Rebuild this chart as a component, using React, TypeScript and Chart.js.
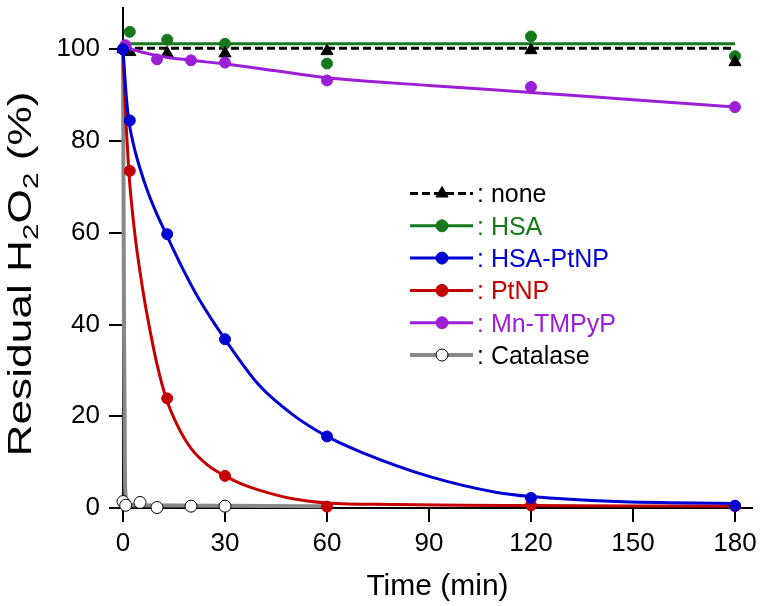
import React, { useEffect, useRef } from "react";
import { Chart, registerables } from "chart.js";

Chart.register(...registerables);

// ---------- data ----------
const X_TICKS = [0, 30, 60, 90, 120, 150, 180];
const Y_TICKS = [0, 20, 40, 60, 80, 100];

const POINT_TIMES = [0, 2, 13, 30, 60, 120, 180];
const NONE_VALUES = [100, 99.4, 99.1, 99.1, 99.6, 99.8, 97.2];
const HSA_VALUES = [100, 103.8, 102.1, 101.2, 96.9, 102.8, 98.5];
const HSA_PTNP_VALUES = [100, 84.5, 59.7, 36.8, 15.6, 2.2, 0.5];
const PTNP_VALUES = [100, 73.5, 23.9, 7.0, 0.3, 0.6, 0.4];

const MN_TIMES = [0.7, 10, 20, 30, 60, 120, 180];
const MN_VALUES = [100.9, 97.8, 97.6, 97.1, 93.2, 91.8, 87.4];

const CAT_TIMES = [0, 0.8, 5, 10, 20, 30];
const CAT_VALUES = [1.4, 0.6, 1.2, 0.1, 0.4, 0.4];

// fitted curves
const NONE_FIT_T = [0, 180];
const NONE_FIT_V = [100.2, 100.2];
const HSA_FIT_T = [0, 180];
const HSA_FIT_V = [101.2, 101.2];
const MN_FIT_T = [0, 10, 20, 30, 45, 60, 90, 120, 150, 180];
const MN_FIT_V = [100.5, 98.6, 97.6, 96.8, 95.3, 93.8, 92.1, 90.6, 89.0, 87.4];
const BLUE_FIT_T = [0, 0.5, 1, 1.7, 3, 5, 7.5, 10, 12.7, 17, 22, 30, 40, 50, 60, 70, 90, 110, 120, 145, 180];
const BLUE_FIT_V = [100, 94.5, 89.5, 84.5, 79.5, 74, 68.5, 64, 59.7, 53, 46, 36.8, 26.8, 20.3, 15.6, 12.2, 6.9, 3.4, 2.5, 1.4, 1.0];
const RED_FIT_T = [0, 0.5, 1, 1.7, 2.5, 3.6, 5, 6.5, 8, 10, 12.7, 16, 20, 25, 30, 35, 40, 50, 60, 80, 100, 120, 150, 180];
const RED_FIT_V = [100, 90, 82.5, 73.5, 66.5, 59, 51.5, 44.5, 38.5, 31.3, 23.9, 18.0, 13.0, 9.3, 7.0, 5.2, 3.9, 2.0, 1.1, 0.75, 0.6, 0.55, 0.45, 0.4];
const CAT_FIT_T = [0, 0.3, 0.6, 1.2, 3, 60];
const CAT_FIT_V = [100, 40, 5, 1.2, 0.6, 0.4];

const LEGEND_LABELS = [": none", ": HSA", ": HSA-PtNP", ": PtNP", ": Mn-TMPyP", ": Catalase"];

// ---------- styles ----------
const FONT = "'Liberation Sans', Arial, Helvetica, sans-serif";
const BLACK = "#000000";
const GREEN = "#16781a";
const BLUE = "#0000d2";
const RED = "#c40000";
const PURPLE = "#9c1ed6";
const GRAY = "#888888";

const pts = (xs: number[], ys: number[]) => xs.map((x, i) => ({ x, y: ys[i] }));

type LegendStyle = {
  label: string;
  line: string;
  text: string;
  dash?: number[];
  pointStyle: string;
  fill: string;
  stroke: string;
  radius: number;
  lineWidth: number;
};

const LEGEND_STYLES: LegendStyle[] = [
  { label: LEGEND_LABELS[0], line: BLACK, text: BLACK, dash: [8, 4], pointStyle: "triangle", fill: BLACK, stroke: BLACK, radius: 7, lineWidth: 3 },
  { label: LEGEND_LABELS[1], line: GREEN, text: GREEN, pointStyle: "circle", fill: GREEN, stroke: GREEN, radius: 6, lineWidth: 3 },
  { label: LEGEND_LABELS[2], line: BLUE, text: BLUE, pointStyle: "circle", fill: BLUE, stroke: BLUE, radius: 6, lineWidth: 3 },
  { label: LEGEND_LABELS[3], line: RED, text: RED, pointStyle: "circle", fill: RED, stroke: RED, radius: 6, lineWidth: 3 },
  { label: LEGEND_LABELS[4], line: PURPLE, text: PURPLE, pointStyle: "circle", fill: PURPLE, stroke: PURPLE, radius: 6, lineWidth: 3 },
  { label: LEGEND_LABELS[5], line: GRAY, text: BLACK, pointStyle: "circle", fill: "#ffffff", stroke: BLACK, radius: 6, lineWidth: 4 },
];

const decorPlugin = {
  id: "decor",
  afterDraw(chart: any) {
    const ctx: CanvasRenderingContext2D = chart.ctx;
    // ----- legend -----
    const x0 = 410, x1 = 473, xm = 442, tx = 477;
    LEGEND_STYLES.forEach((s, i) => {
      const y = 193.5 + i * 32.3;
      ctx.save();
      ctx.strokeStyle = s.line;
      ctx.lineWidth = s.lineWidth;
      ctx.setLineDash(s.dash || []);
      ctx.beginPath();
      ctx.moveTo(x0, y);
      ctx.lineTo(x1, y);
      ctx.stroke();
      ctx.setLineDash([]);
      ctx.fillStyle = s.fill;
      ctx.strokeStyle = s.stroke;
      ctx.lineWidth = 1;
      ctx.beginPath();
      if (s.pointStyle === "triangle") {
        const r = s.radius;
        ctx.moveTo(xm, y - r);
        ctx.lineTo(xm + r * 0.866, y + r * 0.5);
        ctx.lineTo(xm - r * 0.866, y + r * 0.5);
        ctx.closePath();
      } else {
        ctx.arc(xm, y, s.radius, 0, Math.PI * 2);
      }
      ctx.fill();
      ctx.stroke();
      ctx.fillStyle = s.text;
      ctx.font = `25px ${FONT}`;
      ctx.textAlign = "left";
      ctx.textBaseline = "alphabetic";
      ctx.fillText(s.label, tx, y + 8.8);
      ctx.restore();
    });

    // ----- x title -----
    ctx.save();
    ctx.fillStyle = BLACK;
    ctx.font = `30px ${FONT}`;
    ctx.textAlign = "center";
    ctx.textBaseline = "alphabetic";
    ctx.fillText("Time (min)", (chart.chartArea.left + chart.chartArea.right) / 2, 595);
    ctx.restore();

    // ----- y title with subscripts -----
    const F = 33, SF = 22;
    const parts = [
      { t: "Residual H", sub: false },
      { t: "2", sub: true },
      { t: "O", sub: false },
      { t: "2", sub: true },
      { t: " (%)", sub: false },
    ];
    ctx.save();
    let total = 0;
    const widths = parts.map((p) => {
      ctx.font = `${p.sub ? SF : F}px ${FONT}`;
      const w = ctx.measureText(p.t).width;
      total += w;
      return w;
    });
    const target = 365;
    const sx = target / total;
    ctx.translate(18.5, 274);
    ctx.rotate(-Math.PI / 2);
    ctx.scale(sx, 1);
    ctx.fillStyle = BLACK;
    ctx.textAlign = "left";
    ctx.textBaseline = "alphabetic";
    let x = -total / 2;
    const base = 12;
    parts.forEach((p, i) => {
      ctx.font = `${p.sub ? SF : F}px ${FONT}`;
      ctx.fillText(p.t, x, p.sub ? base + 7 : base);
      x += widths[i];
    });
    ctx.restore();
  },
};

function fitDs(t: number[], v: number[], color: string, width: number, order: number, dash?: number[]) {
  return {
    type: "line" as const,
    data: pts(t, v),
    borderColor: color,
    borderWidth: width,
    borderDash: dash || [],
    pointRadius: 0,
    pointHoverRadius: 0,
    cubicInterpolationMode: "monotone" as const,
    fill: false,
    clip: false as any,
    order,
  };
}

function ptDs(t: number[], v: number[], style: string, fill: string, stroke: string, radius: number, order: number) {
  return {
    type: "line" as const,
    data: pts(t, v),
    showLine: false,
    pointStyle: style,
    pointRadius: radius,
    pointHoverRadius: radius,
    pointBackgroundColor: fill,
    pointBorderColor: stroke,
    pointBorderWidth: 1,
    borderColor: stroke,
    backgroundColor: fill,
    clip: false as any,
    order,
  };
}

const zeroPad = (s: any) => {
  s.paddingTop = 0;
  s.paddingBottom = 0;
  s.paddingLeft = 0;
  s.paddingRight = 0;
};

export default function App() {
  const ref = useRef<HTMLCanvasElement | null>(null);
  useEffect(() => {
    if (!ref.current) return;
    const chart = new Chart(ref.current, {
      type: "line",
      data: {
        datasets: [
          ptDs(POINT_TIMES, HSA_PTNP_VALUES, "circle", BLUE, BLUE, 5.5, 0),
          ptDs(POINT_TIMES, PTNP_VALUES, "circle", RED, RED, 5.5, 1),
          fitDs(BLUE_FIT_T, BLUE_FIT_V, BLUE, 3, 2),
          fitDs(RED_FIT_T, RED_FIT_V, RED, 3, 3),
          ptDs(CAT_TIMES, CAT_VALUES, "circle", "#ffffff", BLACK, 6, 4),
          fitDs(CAT_FIT_T, CAT_FIT_V, GRAY, 4, 5),
          ptDs(MN_TIMES, MN_VALUES, "circle", PURPLE, PURPLE, 5.5, 6),
          fitDs(MN_FIT_T, MN_FIT_V, PURPLE, 3, 7),
          ptDs(POINT_TIMES, NONE_VALUES, "triangle", BLACK, BLACK, 7, 8),
          ptDs(POINT_TIMES, HSA_VALUES, "circle", GREEN, GREEN, 5.5, 9),
          fitDs(NONE_FIT_T, NONE_FIT_V, BLACK, 3, 10, [8, 4]),
          fitDs(HSA_FIT_T, HSA_FIT_V, GREEN, 3, 11),
        ] as any,
      },
      options: {
        animation: false,
        responsive: false,
        events: [],
        layout: { padding: { top: 8, right: 9, left: 0, bottom: 0 } },
        plugins: { legend: { display: false }, tooltip: { enabled: false }, title: { display: false } },
        scales: {
          x: {
            type: "linear",
            position: "bottom",
            min: 0,
            max: 185,
            afterBuildTicks: (s: any) => {
              s.ticks = X_TICKS.map((value) => ({ value }));
            },
            afterFit: (s: any) => {
              s.height = 98;
              zeroPad(s);
            },
            grid: { display: true, drawOnChartArea: false, drawTicks: true, tickLength: 14, tickWidth: 2, tickColor: BLACK, color: BLACK, lineWidth: 2 },
            border: { display: true, color: BLACK, width: 2 },
            ticks: { autoSkip: false, maxRotation: 0, color: BLACK, padding: 6, font: { family: FONT, size: 26 } },
          },
          y: {
            type: "linear",
            position: "left",
            min: 0,
            max: 109,
            afterBuildTicks: (s: any) => {
              s.ticks = Y_TICKS.map((value) => ({ value }));
            },
            afterFit: (s: any) => {
              s.width = 123;
              zeroPad(s);
            },
            grid: { display: true, drawOnChartArea: false, drawTicks: true, tickLength: 14, tickWidth: 2, tickColor: BLACK, color: BLACK, lineWidth: 2 },
            border: { display: true, color: BLACK, width: 2 },
            ticks: { autoSkip: false, color: BLACK, padding: 9, font: { family: FONT, size: 26 } },
          },
        },
      } as any,
      plugins: [decorPlugin],
    });
    return () => chart.destroy();
  }, []);
  return (
    <div style={{ position: "fixed", left: 0, top: 0, width: 761, height: 606, background: "#ffffff" }}>
      <canvas ref={ref} width={761} height={606} style={{ display: "block" }} />
    </div>
  );
}
